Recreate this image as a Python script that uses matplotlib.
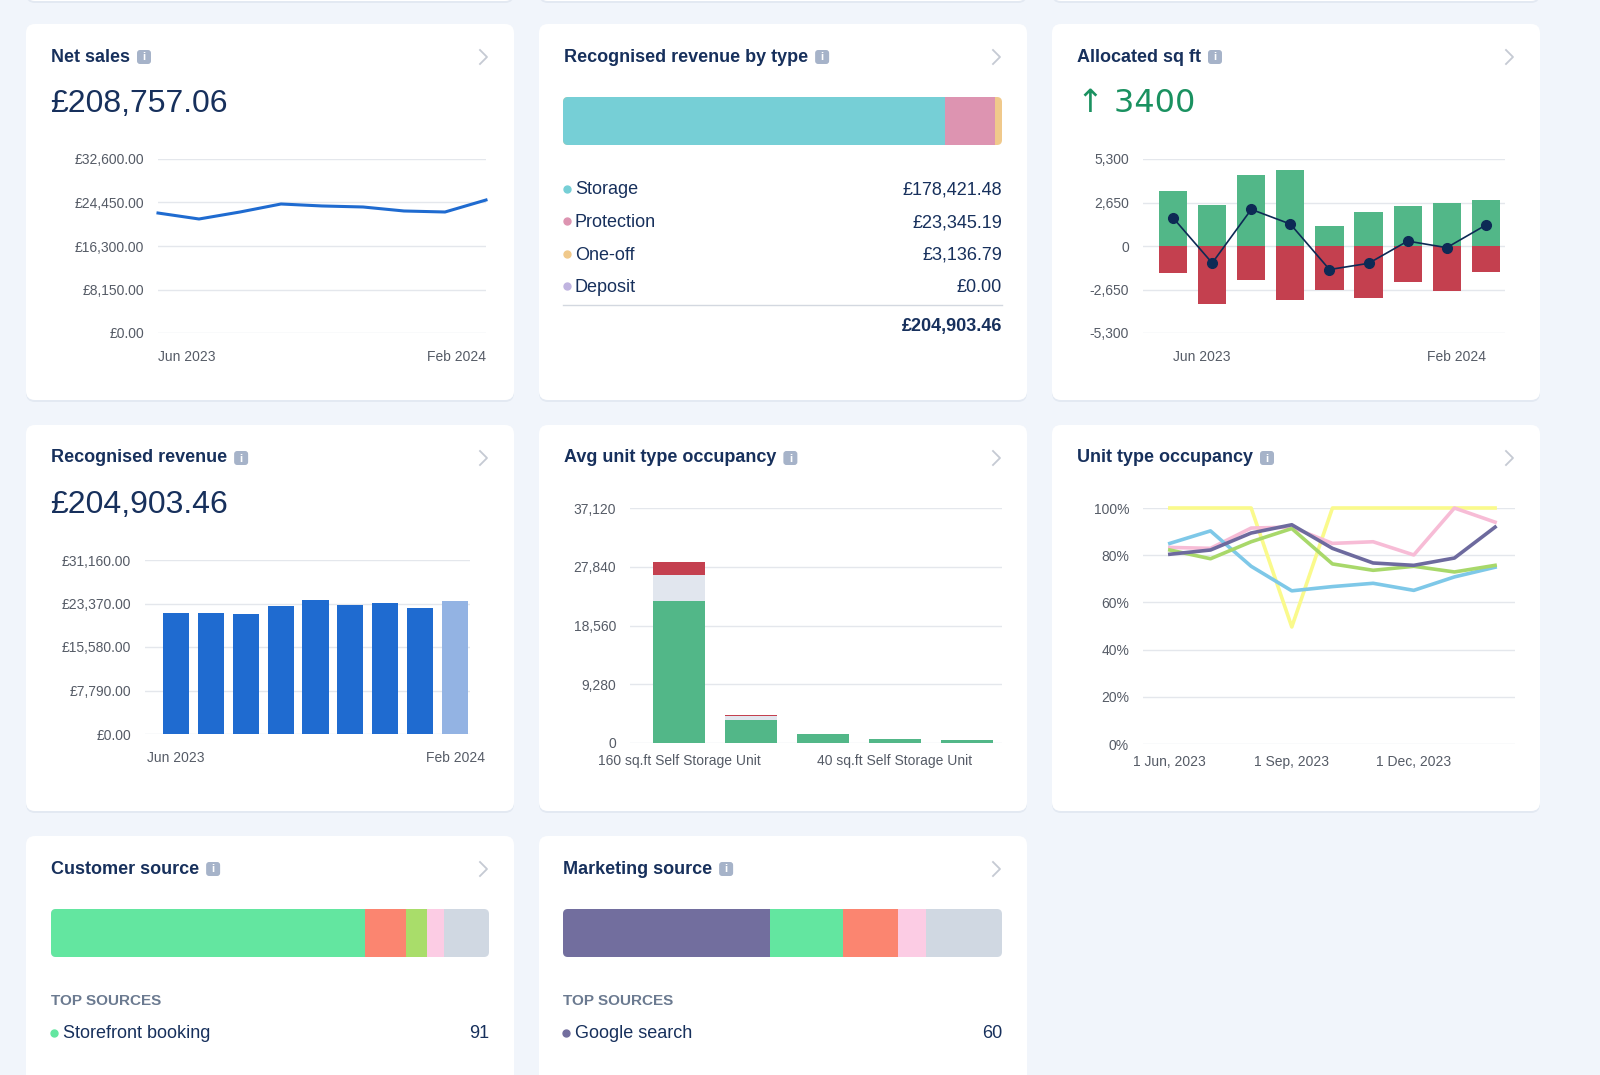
import numpy as np
import matplotlib
matplotlib.use("Agg")
import matplotlib.pyplot as plt
from matplotlib.patches import FancyBboxPatch, Rectangle
from matplotlib.ticker import FuncFormatter

plt.rcParams['font.family'] = ['Liberation Sans', 'DejaVu Sans']

W, H = 1600, 1075

# ── Data ──────────────────────────────────────────────────────────────────────
months = ["Jun 2023", "Jul 2023", "Aug 2023", "Sep 2023", "Oct 2023",
          "Nov 2023", "Dec 2023", "Jan 2024", "Feb 2024"]
net_sales = [22480, 21360, 22670, 24170, 23800, 23610, 22860, 22670, 24920]
recognised = [21670, 21670, 21490, 22920, 24000, 23100, 23460, 22560, 23820]

alloc_in = [3347, 2490, 4303, 4622, 1215, 2092, 2450, 2650, 2809]
alloc_out = [-1653, -3546, -2092, -3287, -2650, -3167, -2171, -2769, -1554]
alloc_net = [1713, -1036, 2231, 1335, -1434, -1056, 299, -100, 1275]

unit_types = ["160 sq.ft Self Storage Unit", "120 sq.ft Self Storage Unit",
              "80 sq.ft Self Storage Unit", "40 sq.ft Self Storage Unit",
              "20 sq.ft Self Storage Unit"]
occ_occupied = [22377, 3609, 1392, 619, 516]
occ_reserved = [4228, 619, 0, 0, 0]
occ_overlocked = [1908, 155, 0, 0, 0]

occ_yellow = [100, 100, 100, 49.6, 100, 100, 100, 100, 100]
occ_blue = [85, 90.3, 75.3, 64.9, 66.7, 68.1, 65.1, 70.8, 74.9]
occ_green = [82.2, 78.5, 85.7, 91.3, 76.3, 73.6, 75.3, 72.9, 75.7]
occ_pink = [83.3, 82.9, 91.5, 91.9, 85, 85.7, 80.1, 100, 94]
occ_purple = [80.4, 82.2, 89.4, 92.9, 82.9, 76.7, 75.7, 78.8, 91.9]

rev_types = ["Storage", "Protection", "One-off", "Deposit"]
rev_values = [178421.48, 23345.19, 3136.79, 0.00]
rev_colors = ["#76cfd6", "#dd94b1", "#f0c98b", "#c0b4e0"]

cust_counts = [91, 12, 6, 5, 13]
cust_colors = ["#63e6a0", "#fb8570", "#a9dd6a", "#fccce4", "#d0d8e2"]
mkt_counts = [60, 21, 16, 8, 22]
mkt_colors = ["#726e9e", "#63e6a0", "#fb8570", "#fccce4", "#d0d8e2"]

NAVY = "#17305c"
GRID = "#e4e7ec"
TICK = "#555b66"

fig = plt.figure(figsize=(16, 10.75), dpi=100)
fig.patch.set_facecolor("#f1f5fb")
bg = fig.add_axes([0, 0, 1, 1], zorder=0)
bg.set_xlim(0, W)
bg.set_ylim(H, 0)
bg.axis("off")


def card(x0, y0, x1, y1):
    bg.add_patch(FancyBboxPatch((x0, y0 + 2), x1 - x0, y1 - y0,
                                boxstyle="round,pad=0,rounding_size=9",
                                fc="#e3e9f2", ec="none"))
    bg.add_patch(FancyBboxPatch((x0, y0), x1 - x0, y1 - y0,
                                boxstyle="round,pad=0,rounding_size=9",
                                fc="white", ec="none"))


def title(x, y, txt, x_right):
    t = bg.text(x, y, txt, fontsize=13, fontweight="bold", color=NAVY,
                va="center", ha="left")
    fig.canvas.draw()
    bb = t.get_window_extent()
    ix = bb.x1 + 7
    bg.add_patch(FancyBboxPatch((ix, y - 7), 14, 14,
                                boxstyle="round,pad=0,rounding_size=3",
                                fc="#a6b3c9", ec="none"))
    bg.text(ix + 7, y + 0.5, "i", fontsize=8, color="white", fontweight="bold",
            ha="center", va="center")
    bg.plot([x_right - 4, x_right + 3, x_right - 4], [y - 7, y, y + 7],
            color="#c5cad3", lw=1.3)


def chart_axes(x0, y0, x1, y1):
    ax = fig.add_axes([x0 / W, 1 - y1 / H, (x1 - x0) / W, (y1 - y0) / H], zorder=2)
    ax.set_facecolor("none")
    for s in ax.spines.values():
        s.set_visible(False)
    ax.grid(axis="y", color=GRID, lw=1)
    ax.set_axisbelow(True)
    ax.tick_params(length=0, labelsize=10, labelcolor=TICK)
    ax.tick_params(axis="y", pad=10)
    ax.tick_params(axis="x", pad=12)
    return ax


cols = [(26, 514), (539, 1027), (1052, 1540)]
rows = [(24, 400), (425, 811), (836, 1120)]
for c in cols:
    card(c[0], -100, c[1], 1)
for r in rows[:2]:
    for c in cols:
        card(c[0], r[0], c[1], r[1])
card(cols[0][0], rows[2][0], cols[0][1], rows[2][1])
card(cols[1][0], rows[2][0], cols[1][1], rows[2][1])

# ── Net sales ─────────────────────────────────────────────────────────────────
title(51, 57, "Net sales", 484)
bg.text(50, 104, "£208,757.06", fontsize=23, color=NAVY, va="center")
ax = chart_axes(158, 159, 486, 333)
x = np.arange(len(months))
ax.plot(x, net_sales, color="#1f6bd0", lw=2.2, clip_on=False)
ax.set_xlim(0, 8)
ax.set_ylim(0, 32600)
ax.set_yticks([0, 8150, 16300, 24450, 32600])
ax.yaxis.set_major_formatter(FuncFormatter(lambda v, p: f"£{v:,.2f}"))
ax.set_xticks([0, 8])
ax.set_xticklabels([months[0], months[-1]])
ax.get_xticklabels()[0].set_ha("left")
ax.get_xticklabels()[1].set_ha("right")

# ── Recognised revenue by type ───────────────────────────────────────────────
title(564, 57, "Recognised revenue by type", 997)
total = sum(rev_values)
bg.add_patch(FancyBboxPatch((563, 97), 1002 - 563, 48,
                            boxstyle="round,pad=0,rounding_size=5",
                            fc=rev_colors[2], ec="none"))
left = 563
for i, (v, c) in enumerate(zip(rev_values, rev_colors)):
    w = v / total * (1002 - 563)
    if i == 0:
        bg.add_patch(FancyBboxPatch((left, 97), w, 48,
                                    boxstyle="round,pad=0,rounding_size=5",
                                    fc=c, ec="none"))
        bg.add_patch(Rectangle((left + w - 8, 97), 8, 48, fc=c, ec="none"))
    elif i == 1:
        bg.add_patch(Rectangle((left, 97), w, 48, fc=c, ec="none"))
    left += w
for i, (n, v, c) in enumerate(zip(rev_types, rev_values, rev_colors)):
    yy = 190 + i * 32.5
    bg.plot(567, yy - 1.5, "o", color=c, ms=5)
    bg.text(575, yy, n, fontsize=13, color=NAVY, va="center")
    bg.text(1002, yy, f"£{v:,.2f}", fontsize=13, color=NAVY, va="center", ha="right")
bg.plot([563, 1002], [305, 305], color="#d3d8e0", lw=1)
bg.text(1002, 326, f"£{total:,.2f}", fontsize=13, color=NAVY, va="center",
        ha="right", fontweight="bold")

# ── Allocated sq ft ──────────────────────────────────────────────────────────
title(1077, 57, "Allocated sq ft", 1510)
bg.text(1077, 104, "↑ 3400", fontsize=23, color="#1a9160", va="center",
        family=["DejaVu Sans"])
ax = chart_axes(1143, 159, 1505, 333)
ax.bar(x, alloc_in, width=0.72, color="#52b788")
ax.bar(x, alloc_out, width=0.72, color="#c4404f")
ax.plot(x, alloc_net, color="#0d2a55", lw=1.2, marker="o", ms=7)
ax.set_xlim(-0.77, 8.49)
ax.set_ylim(-5300, 5300)
ax.set_yticks([-5300, -2650, 0, 2650, 5300])
ax.yaxis.set_major_formatter(FuncFormatter(lambda v, p: f"{v:,.0f}"))
ax.set_xticks([0, 8])
ax.set_xticklabels([months[0], months[-1]])
ax.get_xticklabels()[0].set_ha("left")
ax.get_xticklabels()[1].set_ha("right")

# ── Recognised revenue ───────────────────────────────────────────────────────
title(51, 458, "Recognised revenue", 484)
bg.text(50, 505, "£204,903.46", fontsize=23, color=NAVY, va="center")
ax = chart_axes(145, 560, 470, 734)
colors = ["#1f6bd0"] * 8 + ["#93b3e3"]
ax.bar(x, recognised, width=0.75, color=colors)
ax.set_xlim(-0.89, 8.43)
ax.set_ylim(0, 31160)
ax.set_yticks([0, 7790, 15580, 23370, 31160])
ax.yaxis.set_major_formatter(FuncFormatter(lambda v, p: f"£{v:,.2f}"))
ax.set_xticks([0, 8])
ax.set_xticklabels([months[0], months[-1]])

# ── Avg unit type occupancy ──────────────────────────────────────────────────
title(564, 458, "Avg unit type occupancy", 997)
ax = chart_axes(630, 508, 1002, 743)
u = np.arange(len(unit_types))
b1 = np.array(occ_occupied)
b2 = b1 + np.array(occ_reserved)
ax.bar(u, occ_occupied, width=0.72, color="#52b788")
ax.bar(u, occ_reserved, bottom=b1, width=0.72, color="#e1e6ee")
ax.bar(u, occ_overlocked, bottom=b2, width=0.72, color="#c4404f")
ax.set_xlim(-0.68, 4.49)
ax.set_ylim(0, 37120)
ax.set_yticks([0, 9280, 18560, 27840, 37120])
ax.yaxis.set_major_formatter(FuncFormatter(lambda v, p: f"{v:,.0f}"))
ax.set_xticks([0, 3])
ax.set_xticklabels([unit_types[0], unit_types[3]])
ax.tick_params(axis="x", pad=8)

# ── Unit type occupancy ──────────────────────────────────────────────────────
title(1077, 458, "Unit type occupancy", 1510)
ax = chart_axes(1143, 508, 1515, 744)
for s, c in [(occ_yellow, "#fafa8c"), (occ_pink, "#f7bcd6"), (occ_blue, "#7ec8e8"),
             (occ_green, "#a8d86a"), (occ_purple, "#6d6a9e")]:
    ax.plot(x, s, color=c, lw=2.6, clip_on=False)
ax.set_xlim(-0.66, 8.49)
ax.set_ylim(0, 100)
ax.set_yticks([0, 20, 40, 60, 80, 100])
ax.yaxis.set_major_formatter(FuncFormatter(lambda v, p: f"{v:.0f}%"))
ax.set_xticks([0, 3, 6])
ax.set_xticklabels(["1 Jun, 2023", "1 Sep, 2023", "1 Dec, 2023"])
ax.tick_params(axis="x", pad=8)


# ── Source cards ─────────────────────────────────────────────────────────────
def source_card(x0, x1, ttl, counts, cols_, top_name):
    title(x0, 869, ttl, x1 - 5)
    tot = sum(counts)
    bg.add_patch(FancyBboxPatch((x0, 909), x1 - x0, 48,
                                boxstyle="round,pad=0,rounding_size=5",
                                fc=cols_[-1], ec="none"))
    left = x0
    for i, (v, c) in enumerate(zip(counts, cols_)):
        w = v / tot * (x1 - x0)
        if i == 0:
            bg.add_patch(FancyBboxPatch((left, 909), w, 48,
                                        boxstyle="round,pad=0,rounding_size=5",
                                        fc=c, ec="none"))
            bg.add_patch(Rectangle((left + w - 8, 909), 8, 48, fc=c, ec="none"))
        elif i < len(counts) - 1:
            bg.add_patch(Rectangle((left, 909), w, 48, fc=c, ec="none"))
        left += w
    bg.text(x0, 1001, "TOP SOURCES", fontsize=11, color="#6b7a90",
            fontweight="bold", va="center")
    bg.plot(x0 + 3, 1032.5, "o", color=cols_[0], ms=5)
    bg.text(x0 + 12, 1034, top_name, fontsize=13, color=NAVY, va="center")
    bg.text(x1, 1034, str(counts[0]), fontsize=13, color=NAVY, va="center", ha="right")


source_card(51, 489, "Customer source", cust_counts, cust_colors, "Storefront booking")
source_card(563, 1002, "Marketing source", mkt_counts, mkt_colors, "Google search")

fig.savefig("out.png", dpi=100, facecolor=fig.get_facecolor())
